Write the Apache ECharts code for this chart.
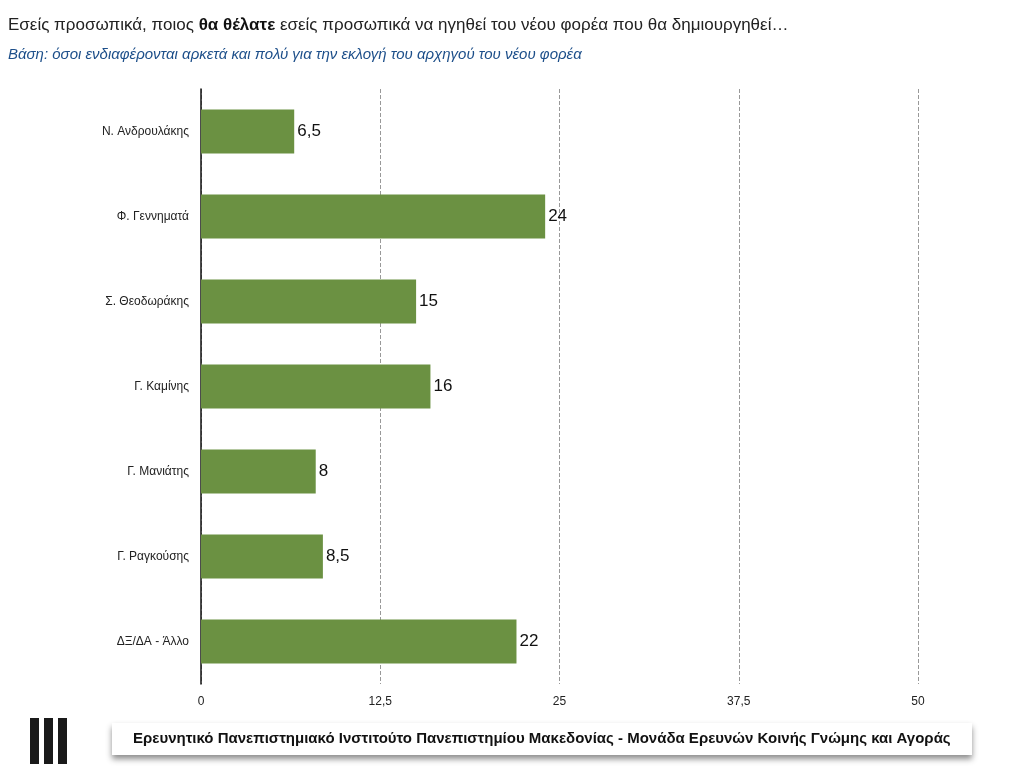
<!DOCTYPE html>
<html>
<head>
<meta charset="UTF-8">
<script src="https://cdn.jsdelivr.net/npm/echarts@6/dist/echarts.min.js"></script>
<style>
  html, body { margin: 0; background: #fff; }
  #main { width: 1012px; height: 768px; }
</style>
</head>
<body>
<div id="main"></div>
<script>
var names = ['Ν. Ανδρουλάκης', 'Φ. Γεννηματά', 'Σ. Θεοδωράκης', 'Γ. Καμίνης', 'Γ. Μανιάτης', 'Γ. Ραγκούσης', 'ΔΞ/ΔΑ - Άλλο'];
var values = [6.5, 24, 15, 16, 8, 8.5, 22];
var ticks = [0, 12.5, 25, 37.5, 50];

function comma(v) { return String(v).replace('.', ','); }

var chart = echarts.init(document.getElementById('main'));
chart.setOption({
    animation: false,
    textStyle: { fontFamily: 'Liberation Sans, Arial, sans-serif' },
    graphic: [
        { type: 'text', left: 8, top: 17, style: { rich: { b: { fontWeight: 'bold', fontSize: 17, fill: '#111' } },
            text: 'Εσείς προσωπικά, ποιος {b|θα θέλατε} εσείς προσωπικά να ηγηθεί του νέου φορέα που θα δημιουργηθεί…',
            fontSize: 17, fill: '#222' } },
        { type: 'text', left: 8, top: 47, style: { text: 'Βάση: όσοι ενδιαφέρονται αρκετά και πολύ για την εκλογή του αρχηγού του νέου φορέα',
            fontSize: 15, fontStyle: 'italic', fill: '#1d4f8a' } },
        { type: 'rect', shape: { x: 112, y: 723, width: 860, height: 32 },
            style: { fill: '#fff', shadowBlur: 6, shadowOffsetY: 4, shadowColor: 'rgba(0,0,0,0.45)' } },
        { type: 'text', left: 133, top: 731, style: { text: 'Ερευνητικό Πανεπιστημιακό Ινστιτούτο Πανεπιστημίου Μακεδονίας - Μονάδα Ερευνών Κοινής Γνώμης και Αγοράς',
            fontSize: 15, fontWeight: 'bold', fill: '#111' } },
        { type: 'rect', shape: { x: 30, y: 718, width: 9, height: 46 }, style: { fill: '#1a1a1a' } },
        { type: 'rect', shape: { x: 44, y: 718, width: 9, height: 46 }, style: { fill: '#1a1a1a' } },
        { type: 'rect', shape: { x: 58, y: 718, width: 9, height: 46 }, style: { fill: '#1a1a1a' } }
    ],
    grid: { left: 201, right: 94, top: 89, height: 595 },
    xAxis: {
        type: 'value', min: 0, max: 50, interval: 12.5,
        axisLine: { show: false }, axisTick: { show: false },
        axisLabel: { color: '#222', fontSize: 12, margin: 12, formatter: function (v) { return comma(v); } },
        splitLine: { lineStyle: { color: '#999', type: 'dashed', width: 1 } }
    },
    yAxis: {
        type: 'category', data: names, inverse: true,
        axisLine: { lineStyle: { color: '#111', width: 1.5 } }, axisTick: { show: false },
        axisLabel: { color: '#222', fontSize: 12, margin: 12 }
    },
    series: [{
        type: 'bar', data: values, barWidth: '52%',
        itemStyle: { color: '#6b9142' },
        label: { show: true, position: 'right', distance: 3, color: '#111', fontSize: 17,
            formatter: function (p) { return comma(p.value); } }
    }]
});
</script>
</body>
</html>
